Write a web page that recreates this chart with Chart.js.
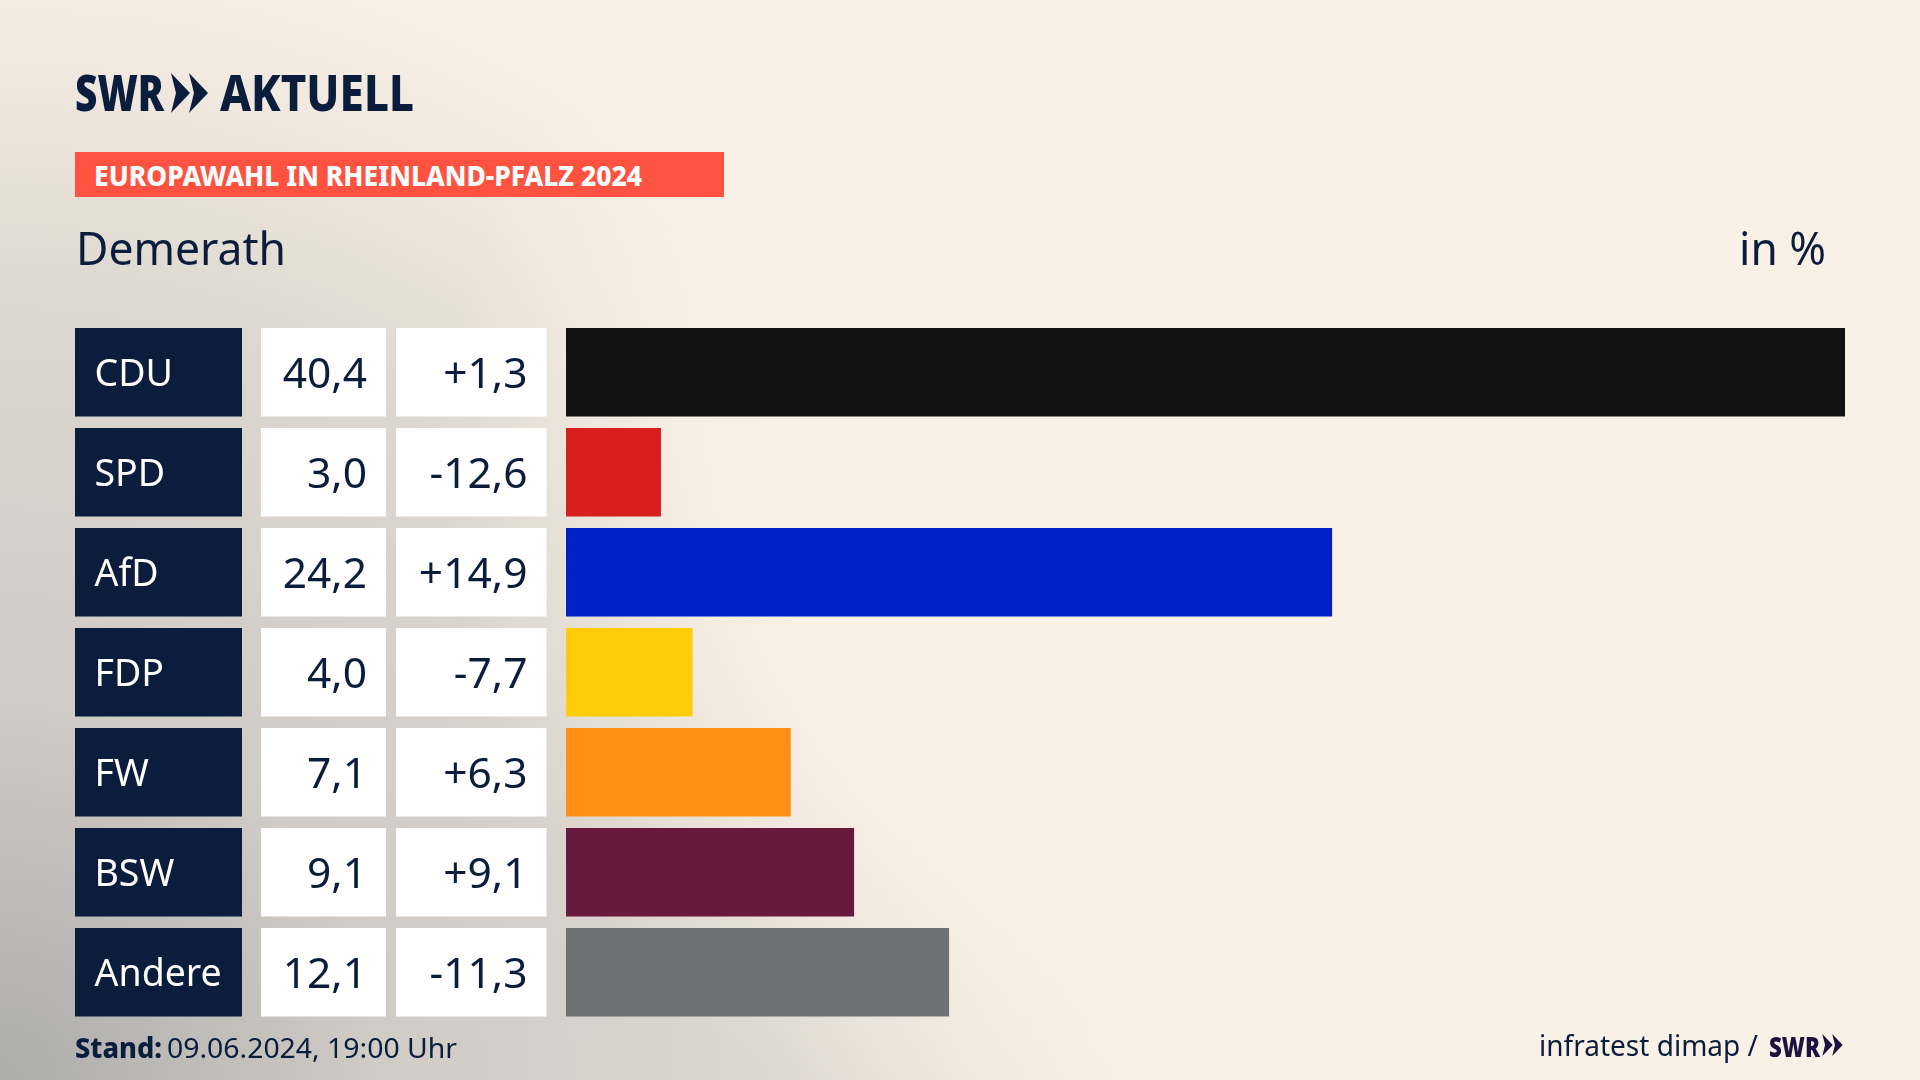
<!DOCTYPE html>
<html lang="de">
<head>
<meta charset="utf-8">
<title>Europawahl in Rheinland-Pfalz 2024 – Demerath</title>
<script src="https://cdn.jsdelivr.net/npm/chart.js@4"></script>
<style>
html,body{margin:0;padding:0;width:1920px;height:1080px;overflow:hidden;background:#FAF1E6}
#bg{position:absolute;left:0;top:0;width:1920px;height:1080px;
 background:
 radial-gradient(circle 720px at 1160px 470px,#faf1e6 55%,rgba(250,241,230,0) 100%),
 radial-gradient(circle 1180px at 0 1080px,#acacab 0%,#cfcbc5 32%,#ddd7cf 66%,#f0e8de 85%,#faf1e6 100%)}
canvas{position:absolute;left:0;top:0}
.t{position:absolute;white-space:nowrap;transform-origin:0 50%;font-family:"Noto Sans",sans-serif;color:#0A1D3D;line-height:1}
#banner{position:absolute;left:75px;top:152px;width:649px;height:45px;background:#FF5240}
svg{position:absolute}
</style>
</head>
<body>
<div id="bg"></div>
<canvas id="c" width="1920" height="1080" style="width:1920px;height:1080px"></canvas>
<div id="banner"></div>
<div class="t" data-w="89" style="left:75px;top:67px;font-size:50px;font-weight:900">SWR</div>
<svg style="left:170px;top:73px" width="39" height="40" viewBox="0 0 39 40"><path fill="#0A1D3D" d="M1 0 L20 20 L1 40 L6 20 Z M19 0 L38 20 L19 40 L24 20 Z"/></svg>
<div class="t" data-w="194" style="left:220px;top:67px;font-size:50px;font-weight:800">AKTUELL</div>
<div class="t" data-w="548" style="left:94px;top:161px;font-size:28px;font-weight:800;color:#fff">EUROPAWAHL IN RHEINLAND-PFALZ 2024</div>
<div class="t" data-w="210" style="left:76px;top:225px;font-size:45px">Demerath</div>
<div class="t" data-w="87" style="left:1739px;top:225px;font-size:45px">in %</div>
<div class="t" data-w="87" style="left:75px;top:1033px;font-size:28px;font-weight:800">Stand:</div>
<div class="t" data-w="290" style="left:167px;top:1033px;font-size:28px">09.06.2024, 19:00 Uhr</div>
<div class="t" data-w="219" style="left:1539px;top:1030px;font-size:29px">infratest dimap /</div>
<div class="t" data-w="51" style="left:1769px;top:1031px;font-size:29px;font-weight:900;color:#1F1240">SWR</div>
<svg style="left:1821px;top:1034px" width="23" height="22" viewBox="0 0 39 40"><path fill="#1F1240" d="M1 0 L20 20 L1 40 L6 20 Z M19 0 L38 20 L19 40 L24 20 Z"/></svg>
<script>
const parties = ["CDU","SPD","AfD","FDP","FW","BSW","Andere"];
const shares = [40.4,3.0,24.2,4.0,7.1,9.1,12.1];
const shareLabels = ["40,4","3,0","24,2","4,0","7,1","9,1","12,1"];
const changeLabels = ["+1,3","-12,6","+14,9","-7,7","+6,3","+9,1","-11,3"];
const barColors = ["#121212","#D71F1D","#0021C8","#FFCC0A","#FF9015","#69193E","#707173"];

document.querySelectorAll('.t').forEach(e=>{
  const w=+e.dataset.w, m=e.getBoundingClientRect().width;
  e.style.transform='scaleX('+(w/m)+')';
});

const NAVY="#0A1D3D", ROW=88.5;
const cells={
  id:'cells',
  beforeDatasetsDraw(ch){
    const {ctx,scales:{y}}=ch;
    ctx.save();
    parties.forEach((p,i)=>{
      const c=y.getPixelForValue(i), top=c-ROW/2;
      ctx.fillStyle=NAVY; ctx.fillRect(75,top,167,ROW);
      ctx.fillStyle="#fff"; ctx.fillRect(261,top,125,ROW); ctx.fillRect(396,top,150.5,ROW);
      ctx.fillStyle=NAVY; ctx.font='42.5px "Noto Sans",sans-serif';
      ctx.textAlign='right'; ctx.textBaseline='middle';
      ctx.fillText(shareLabels[i],367,c+4);
      ctx.fillText(changeLabels[i],527.5,c+4);
    });
    ctx.restore();
  },
  afterDatasetsDraw(ch){
    const {ctx,scales:{y}}=ch;
    ctx.save();
    ctx.fillStyle="#fff"; ctx.font='37.5px "Noto Sans",sans-serif';
    ctx.textAlign='left'; ctx.textBaseline='middle';
    parties.forEach((p,i)=>ctx.fillText(p,94.5,y.getPixelForValue(i)+3.5));
    ctx.restore();
  }
};

new Chart(document.getElementById('c'),{
  type:'bar',
  data:{labels:parties,datasets:[{data:shares,backgroundColor:barColors,borderWidth:0,barPercentage:0.885,categoryPercentage:1}]},
  options:{
    indexAxis:'y',responsive:false,animation:false,devicePixelRatio:1,
    layout:{padding:{left:75,right:75,top:322.25,bottom:57.75}},
    plugins:{legend:{display:false},tooltip:{enabled:false},title:{display:false}},
    scales:{
      x:{display:false,min:0,max:40.4},
      y:{position:'left',grid:{display:false},border:{display:false},
         ticks:{display:false},
         afterFit(s){s.width=491;}}
    }
  },
  plugins:[cells]
});
</script>
</body>
</html>
